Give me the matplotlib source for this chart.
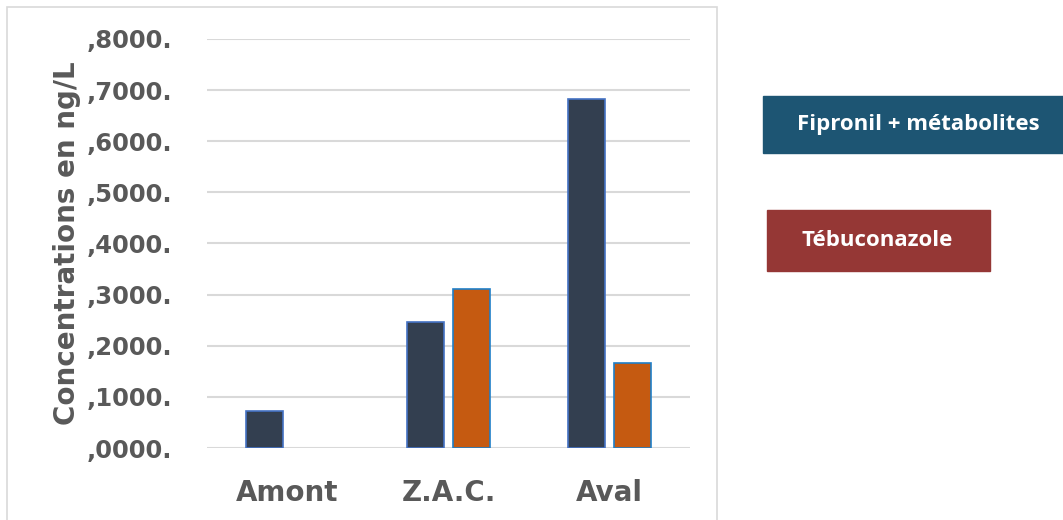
import matplotlib
matplotlib.use("Agg")
import matplotlib.pyplot as plt
from matplotlib.patches import Rectangle
import numpy as np

categories = ["Amont", "Z.A.C.", "Aval"]
fipronil = [720, 2470, 6830]
tebuconazole = [np.nan, 3110, 1670]
ytick_values = [0, 1000, 2000, 3000, 4000, 5000, 6000, 7000, 8000]
ytick_labels = [",0000.", ",1000.", ",2000.", ",3000.", ",4000.",
                ",5000.", ",6000.", ",7000.", ",8000."]
legend_labels = ["Fipronil + métabolites", "Tébuconazole"]

W, H = 1063, 520
fig = plt.figure(figsize=(W / 100, H / 100), dpi=100)
ax = fig.add_axes([207 / W, 1 - 448 / H, (690 - 207) / W, (448 - 39) / H])

TEXT = "#595959"
x = np.arange(len(categories))
bw = 0.224
off = 0.143
ax.bar(x - off, fipronil, bw, color="#333F50", edgecolor="#4472C4", linewidth=1.2, zorder=3)
ax.bar(x + off, tebuconazole, bw, color="#C55A11", edgecolor="#1F7FC8", linewidth=1.2, zorder=3)

ax.set_xlim(-0.5, 2.5)
ax.set_ylim(0, 8000)
ax.set_yticks(ytick_values)
ax.set_yticklabels(ytick_labels)
ax.set_xticks(x)
ax.set_xticklabels(categories)
ax.grid(axis="y", color="#D9D9D9", linewidth=1.5, zorder=0)
for s in ax.spines.values():
    s.set_visible(False)
ax.tick_params(axis="both", length=0, colors=TEXT)
ax.tick_params(axis="y", labelsize=17.5, pad=25)
ax.tick_params(axis="x", labelsize=20, pad=22)
for lbl in ax.get_yticklabels() + ax.get_xticklabels():
    lbl.set_fontweight("bold")
ax.set_ylabel("Concentrations en ng/L", fontsize=20, fontweight="bold", color=TEXT, labelpad=4)

# chart frame
fig.patches.append(Rectangle((7 / W, -0.05), (717 - 7) / W, 1 - 7 / H + 0.05,
                             transform=fig.transFigure, fill=False,
                             edgecolor="#D9D9D9", linewidth=1.2))

# legend boxes
boxes = [(763, 96, 300, 57, "#1D5573"), (767, 210, 223, 61, "#953735")]
for (bx, by, bwid, bh, col), lab in zip(boxes, legend_labels):
    fig.patches.append(Rectangle((bx / W, 1 - (by + bh) / H), bwid / W, bh / H,
                                 transform=fig.transFigure, color=col))
    tx = 797 if lab.startswith("F") else 802
    fig.text(tx / W, 1 - (by + bh / 2) / H, lab, color="white", fontsize=16,
             fontweight="bold", family="Open Sans", va="center", ha="left")

fig.savefig("out.png", dpi=100)
